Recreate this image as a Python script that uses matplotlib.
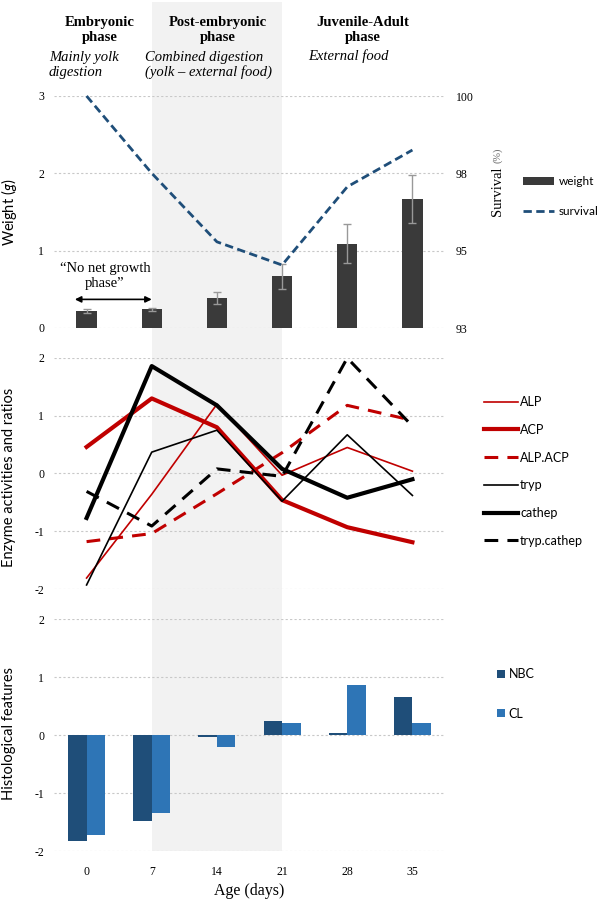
import matplotlib.pyplot as plt
import numpy as np

plt.rcParams["axes.unicode_minus"] = False
plt.rcParams["mathtext.fontset"] = "custom"
plt.rcParams["mathtext.it"] = "Lato:italic"
plt.rcParams["mathtext.rm"] = "Lato"

ages = [0, 7, 14, 21, 28, 35]

# top panel
weight = [0.22, 0.24, 0.39, 0.67, 1.09, 1.67]
weight_err = [0.02, 0.02, 0.08, 0.16, 0.25, 0.31]
survival = [100, 97.67, 95.6, 94.9, 97.26, 98.37]

# middle panel
alp = [-1.81, -0.36, 1.2, -0.03, 0.45, 0.04]
acp = [0.46, 1.30, 0.80, -0.46, -0.93, -1.19]
alp_acp = [-1.18, -1.04, -0.35, 0.36, 1.18, 0.92]
tryp = [-1.93, 0.37, 0.75, -0.48, 0.67, -0.38]
cathep = [-0.77, 1.86, 1.18, 0.08, -0.42, -0.10]
tryp_cathep = [-0.31, -0.91, 0.08, -0.05, 2.0, 0.82]

# bottom panel
nbc = [-1.82, -1.48, -0.04, 0.24, 0.04, 0.65]
cl = [-1.72, -1.34, -0.21, 0.21, 0.87, 0.21]

phases = ["Embryonic\nphase", "Post-embryonic\nphase", "Juvenile-Adult\nphase"]
phase_notes = ["Mainly yolk\ndigestion", "Combined digestion\n(yolk \u2013 external food)",
               "External food"]

W, H = 600, 899
SANS = "Lato"
SERIF = "Liberation Serif"
RED = "#c00000"
L, R = 54, 445

x = np.arange(len(ages))

fig = plt.figure(figsize=(6, 8.99), dpi=100)


def box(left, top, right, bottom):
    return [left / W, 1 - bottom / H, (right - left) / W, (bottom - top) / H]


def style(ax):
    ax.set_facecolor("none")
    for s in ax.spines.values():
        s.set_visible(False)
    ax.tick_params(length=0, pad=7)
    ax.set_xlim(-0.5, 5.5)
    ax.grid(axis="y", color="#c8c8c8", lw=0.8, ls=(0, (2, 2)))
    ax.set_axisbelow(True)
    for t in ax.get_yticklabels():
        t.set_fontfamily(SERIF)
        t.set_fontsize(8.5)


def ylab(ycenter, text, **kw):
    fig.text(9 / W, 1 - ycenter / H, text, rotation=90, ha="center", va="center",
             fontfamily=SANS, fontsize=10.5, **kw)


# shaded post-embryonic band across all panels
bg = fig.add_axes(box(L, 2, R, 851))
bg.set_xlim(-0.5, 5.5)
bg.axvspan(1, 3, color="#f2f2f2", lw=0)
bg.axis("off")

ax1 = fig.add_axes(box(L, 96, R, 328))
ax2 = fig.add_axes(box(L, 358, R, 589))
ax3 = fig.add_axes(box(L, 619, R, 851))

# ---- top: weight + survival
ax1.bar(x, weight, width=0.31, color="#3a3a3a", zorder=2, label="weight")
ax1.errorbar(x, weight, yerr=weight_err, fmt="none", ecolor="#999999",
             elinewidth=1, capsize=3, capthick=1, zorder=3)
ax1.set_ylim(0, 3)
ax1.set_yticks([0, 1, 2, 3])
ax1.set_xticks([])
style(ax1)
ylab(212, "Weight ($\\it{g}$)")

ax1r = ax1.twinx()
ax1r.plot(x, survival, color="#1f4e79", lw=2, ls=(0, (3, 1.6)), clip_on=False,
          label="survival")
ax1r.set_ylim(93, 100)
ax1r.set_yticks(np.linspace(93, 100, 4))
ax1r.yaxis.set_major_formatter(plt.FormatStrFormatter("%.0f"))
for s in ax1r.spines.values():
    s.set_visible(False)
ax1r.tick_params(length=0, pad=8)
for t in ax1r.get_yticklabels():
    t.set_fontfamily(SERIF)
    t.set_fontsize(8.5)
fig.text(498 / W, 1 - 216 / H, "Survival", rotation=90, ha="center", va="bottom",
         fontfamily=SERIF, fontsize=10.5)
fig.text(498 / W, 1 - 163 / H, "(%)", rotation=90, ha="center", va="bottom",
         fontfamily=SERIF, fontsize=7.5, color="#666666")

ax1.annotate("", xy=(-0.18, 0.37), xytext=(1.0, 0.37),
             arrowprops=dict(arrowstyle="<|-|>", color="black", lw=1.2,
                             mutation_scale=9, shrinkA=0, shrinkB=0))
ax1.text(0.28, 0.67, "\u201cNo net growth\nphase\u201d", ha="center", va="center",
         fontfamily=SERIF, fontsize=10.5, linespacing=1.15)

h1, l1 = ax1.get_legend_handles_labels()
h2, l2 = ax1r.get_legend_handles_labels()
fig.legend(h1 + h2, l1 + l2, loc="upper left", bbox_to_anchor=(523 / W, 1 - 176 / H),
           frameon=False, borderpad=0, borderaxespad=0, handlelength=2.6,
           handleheight=0.7, handletextpad=0.4, labelspacing=1.65,
           prop=dict(family=SANS, size=8.5))

# phase headers
header_x = [100, 218, 363]
note_x = [49, 145, 308]
for px, title in zip(header_x, phases):
    fig.text(px / W, 1 - 30 / H, title, ha="center", va="center", fontfamily=SERIF,
             fontweight="bold", fontsize=10.5, linespacing=1.15)
for px, note in zip(note_x, phase_notes):
    yc = 65 if "\n" in note else 56
    fig.text(px / W, 1 - yc / H, note, ha="left", va="center", fontfamily=SERIF,
             fontstyle="italic", fontsize=10.5, linespacing=1.15)

# ---- middle: enzymes
dash = (0, (4.5, 3))
ax2.plot(x, alp, color=RED, lw=1.2, label="ALP", clip_on=False)
ax2.plot(x, acp, color=RED, lw=3, label="ACP", clip_on=False)
ax2.plot(x, alp_acp, color=RED, lw=2.2, ls=dash, label="ALP.ACP", clip_on=False)
ax2.plot(x, tryp, color="black", lw=1.2, label="tryp", clip_on=False)
ax2.plot(x, cathep, color="black", lw=3, label="cathep", clip_on=False)
ax2.plot(x, tryp_cathep, color="black", lw=2.2, ls=dash, label="tryp.cathep",
         clip_on=False)
ax2.set_ylim(-2, 2)
ax2.set_yticks([-2, -1, 0, 1, 2])
ax2.set_xticks([])
style(ax2)
ylab(477, "Enzyme activities and ratios")
h, l = ax2.get_legend_handles_labels()
fig.legend(h, l, loc="upper left", bbox_to_anchor=(484 / W, 1 - 396 / H),
           frameon=False, borderpad=0, borderaxespad=0, handlelength=2.75,
           handletextpad=0.15, labelspacing=1.26, prop=dict(family=SANS, size=9))

# ---- bottom: histology
bw = 0.285
ax3.bar(x - bw / 2, nbc, width=bw, color="#1f4e79", label="NBC", zorder=2)
ax3.bar(x + bw / 2, cl, width=bw, color="#2e75b6", label="CL", zorder=2)
ax3.set_ylim(-2, 2)
ax3.set_yticks([-2, -1, 0, 1, 2])
ax3.set_xticks(x)
ax3.set_xticklabels([str(a) for a in ages])
style(ax3)
for t in ax3.get_xticklabels():
    t.set_fontfamily(SERIF)
    t.set_fontsize(8.5)
ax3.tick_params(axis="x", pad=11)
fig.text((L + R) / 2 / W, 1 - 891 / H, "Age (days)", ha="center", va="center",
         fontfamily=SERIF, fontsize=11.5)
ylab(734, "Histological features")
h, l = ax3.get_legend_handles_labels()
fig.legend(h, l, loc="upper left", bbox_to_anchor=(497 / W, 1 - 668 / H),
           frameon=False, borderpad=0, borderaxespad=0, handlelength=0.6,
           handleheight=0.6, handletextpad=0.33, labelspacing=2.2,
           prop=dict(family=SANS, size=9))

fig.savefig("out.png", dpi=100)
